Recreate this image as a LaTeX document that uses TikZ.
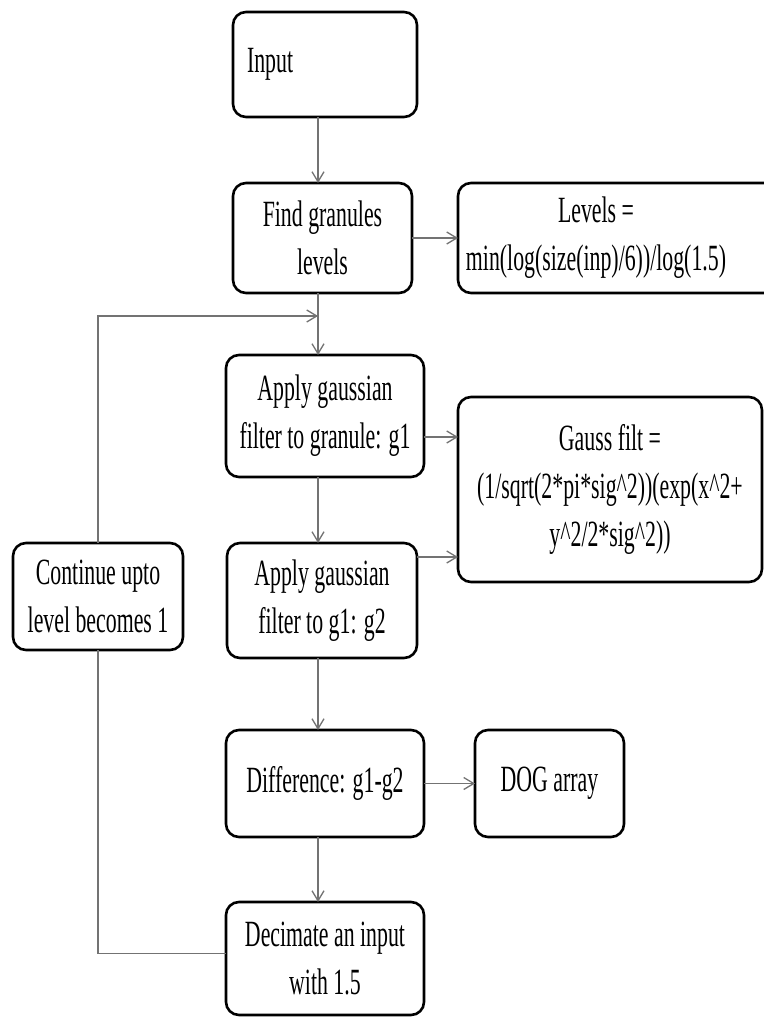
\documentclass[tikz,border=0pt]{standalone}
\usepackage{fontspec}
\setmainfont[FakeStretch=0.59]{Liberation Serif}
\usepackage{tikz}
\usetikzlibrary{arrows.meta, positioning}

\begin{document}
\begin{tikzpicture}[
  x=1pt, y=-1pt,
  font=\fontsize{37}{48}\selectfont,
  stepbox/.style={
    rectangle, rounded corners=13pt,
    align=center, inner sep=4pt, outer sep=0pt,
    line width=2.6pt, draw=black, fill=white
  },
  link/.style={line width=1.3pt, black!55},
  arr/.style={link, -{Straight Barb[length=10pt, width=12pt]}}
]
\useasboundingbox (0,0) rectangle (763,1019);

\coordinate (spine) at (318,0);
\coordinate (loopin) at (318,316);

%% Main column
\node[stepbox, minimum width=184pt, minimum height=105pt,
  text width=156pt, inner xsep=14pt, align=left] (inp) at (325,64.5) {Input};

\node[stepbox, minimum width=179pt, minimum height=110pt,
  below=66pt of inp, xshift=-2.5pt] (find) {Find granules\\ levels};

\node[stepbox, minimum width=198pt, minimum height=122pt,
  below=62pt of find, xshift=2.5pt] (app1) {Apply gaussian\\ filter to granule: g1};

\node[stepbox, minimum width=190pt, minimum height=115pt,
  below=66pt of app1, xshift=-3pt] (app2) {Apply gaussian\\ filter to g1: g2};

\node[stepbox, minimum width=198pt, minimum height=107pt,
  below=72pt of app2, xshift=3pt] (diff) {Difference: g1-g2};

\node[stepbox, minimum width=198pt, minimum height=113pt,
  below=65pt of diff] (dec) {Decimate an input\\ with 1.5};

%% Side boxes
\node[stepbox, minimum width=330pt, minimum height=110pt, inner xsep=0pt,
  right=46pt of find] (levels) {%
  \parbox{276pt}{\centering Levels =\\ min(log(size(inp)/6))/log(1.5)}\hspace*{54pt}};

\node[stepbox, minimum width=304pt, minimum height=185pt] (gauss) at (610,489.5) {%
  Gauss filt =\\
  (1/sqrt(2*pi*sig\textasciicircum 2))(exp(x\textasciicircum 2+\\
  y\textasciicircum 2/2*sig\textasciicircum 2))};

\node[stepbox, minimum width=149pt, minimum height=107pt,
  right=51pt of diff] (dog) {DOG array};

\node[stepbox, minimum width=170pt, minimum height=107pt] (cont) at (98,596.5)
  {Continue upto\\ level becomes 1};

%% Main arrows
\draw[arr] (inp.south -| spine) -- (find.north -| spine);
\draw[arr] (find.south -| spine) -- (app1.north -| spine);
\draw[arr] (app1.south -| spine) -- (app2.north -| spine);
\draw[arr] (app2.south -| spine) -- (diff.north -| spine);
\draw[arr] (diff.south -| spine) -- (dec.north -| spine);

%% Side arrows
\draw[arr] (find) -- (find -| levels.west);
\draw[arr] ([yshift=-21pt]app1.east) -- ([yshift=-21pt]app1.east -| gauss.west);
\draw[arr] ([yshift=43.5pt]app2.east) -- ([yshift=43.5pt]app2.east -| gauss.west);
\draw[arr] (diff) -- (dog);

%% Loop back
\draw[link] ([yshift=5pt]dec.west) -| (cont.south);
\draw[arr] (cont.north) |- (loopin);

\end{tikzpicture}
\end{document}
